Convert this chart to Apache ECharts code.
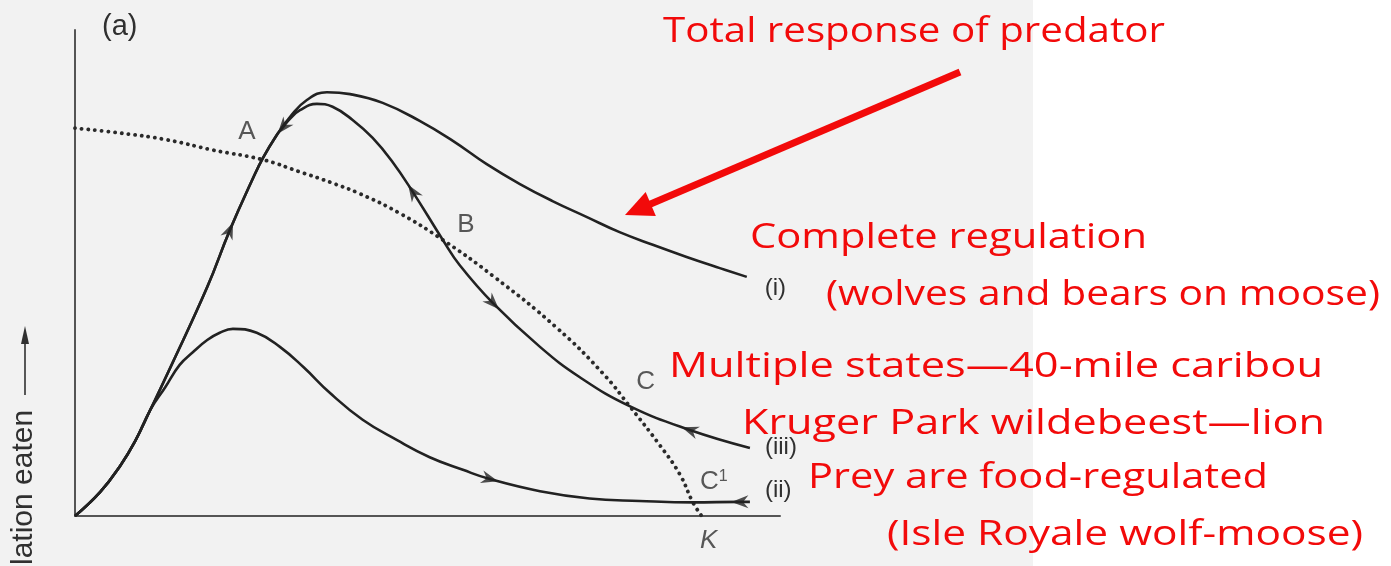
<!DOCTYPE html>
<html>
<head>
<meta charset="utf-8">
<script src="https://cdn.jsdelivr.net/npm/echarts@6/dist/echarts.min.js"></script>
<style>
  html, body { margin: 0; padding: 0; background: #ffffff; }
  #chart { width: 1391px; height: 566px; }
</style>
</head>
<body>
<div id="chart"></div>
<script>
// Prey density on x (carrying capacity K = 100), share of prey population eaten on y.

// Dotted curve: prey recruitment, falling to zero at K
const preyRecruitment = [
  [0, 79.8], [7.2, 78.8], [14.7, 77.4], [22.0, 75.3], [30.0, 73.3], [35.9, 70.8],
  [41.1, 68.5], [45.5, 66.3], [51.8, 62.3], [58.7, 56.8], [66.7, 49.4], [76.9, 38.7],
  [84.2, 29.4], [88.5, 22.6], [93.3, 14.6], [96.5, 8.6], [98.6, 2.8], [100, 0]
];

// (i) total response of predator — complete regulation
const curveI = [
  [0, 0], [4.0, 4.9], [7.2, 10.3], [9.6, 15.4], [12.0, 21.8], [15.2, 30.5], [21.1, 47.1],
  [24.7, 58.8], [28.4, 69.5], [30.0, 73.7], [32.2, 78.4], [34.3, 82.1], [37.0, 85.6],
  [40.2, 87.2], [43.9, 86.8], [49.1, 85.0], [55.0, 81.3], [60.3, 77.2], [65.7, 72.4],
  [71.0, 68.3], [76.2, 64.8], [81.7, 61.5], [86.9, 58.4], [92.2, 55.8], [97.6, 53.3],
  [102.9, 51.0], [107.2, 49.2]
];

// (ii) prey food-regulated
const curveII = [
  [0, 0], [4.0, 4.9], [7.2, 10.3], [9.6, 15.4], [12.0, 21.8], [14.4, 26.5], [16.7, 31.1],
  [18.8, 33.7], [21.1, 36.2], [23.1, 37.7], [25.2, 38.5], [29.0, 37.7], [32.7, 34.8],
  [36.4, 30.7], [40.7, 25.3], [45.9, 19.8], [51.4, 15.6], [56.6, 12.1], [61.9, 9.5],
  [66.2, 7.6], [74.2, 5.1], [82.1, 3.6], [90.1, 3.1], [98.6, 2.8], [106.1, 2.9], [107.7, 2.9]
];

// (iii) multiple stable states
const curveIII = [
  [0, 0], [4.0, 4.9], [7.2, 10.3], [9.6, 15.4], [12.0, 21.8], [15.2, 30.5], [21.1, 47.1],
  [24.7, 58.8], [28.4, 69.5], [30.0, 73.7], [32.2, 78.4], [33.2, 80.0], [34.3, 81.7],
  [35.9, 83.5], [38.6, 84.8], [41.1, 84.2], [44.3, 81.5], [47.5, 77.8], [50.7, 72.8],
  [53.9, 66.7], [58.7, 56.8], [61.4, 51.6], [66.7, 43.8], [74.2, 34.8], [80.5, 28.6],
  [88.5, 22.6], [98.1, 17.7], [107.7, 14.0]
];

const curveNames = ['(i)', '(ii)', '(iii)'];

// Equilibrium points on the recruitment curve, and K on the axis
const equilibria = [
  { name: 'A', value: [30.0, 73.3] },
  { name: 'B', value: [58.7, 56.8] },
  { name: 'C', value: [88.5, 22.6] },
  { name: 'C1', value: [98.6, 2.8] },
  { name: 'K', value: [100, 0] }
];

// Trajectory arrows: curve, x of the curve point carrying the arrow, heading (+1 forward, -1 backward)
const trajectoryArrows = [
  ['i', 24.7, 1],
  ['iii', 33.2, -1],
  ['iii', 53.9, -1],
  ['iii', 66.7, 1],
  ['iii', 98.1, -1],
  ['ii', 66.2, 1],
  ['ii', 106.1, -1]
];

const panelTag = '(a)';
const yAxisTitle = 'lation eaten';

const notes = [
  'Total response of predator',
  'Complete regulation',
  '(wolves and bears on moose)',
  'Multiple states\u201440-mile caribou',
  'Kruger Park wildebeest\u2014lion',
  'Prey are food-regulated',
  '(Isle Royale wolf-moose)'
];

// ---- layout and styling ----
const ink = '#222222';
const textInk = '#303030';
const sans = '"Liberation Sans", Arial, Helvetica, sans-serif';
const noteRed = '#f20a0a';
const noteFontSize = 34;
const noteFont = noteFontSize + 'px "Open Sans", "Noto Sans", sans-serif';
// left edge, baseline, width of each note line
const noteLayout = [
  [663, 43, 502],
  [750, 249, 397],
  [826, 306, 554],
  [669, 378, 654],
  [742, 435, 583],
  [808, 489, 460],
  [887, 546, 476]
];

const curveData = { i: curveI, ii: curveII, iii: curveIII };
const endLabelOffset = { i: [18, 11], ii: [15, -12], iii: [15, -1] };
const markOffset = { A: [-16, -28], B: [23, -15], C: [16, -24], C1: [21, -21], K: [7, 25] };
const arrowPath = 'path://M0,0 L6,16 L0,11 L-6,16 Z';

const measureCtx = document.createElement('canvas').getContext('2d');
function fitScale(text, width) {
  measureCtx.font = noteFont;
  const w = measureCtx.measureText(text).width;
  return w > 0 ? width / w : 1;
}

function curveSeries(key, idx) {
  return {
    id: 'curve-' + key,
    type: 'line',
    data: curveData[key],
    smooth: 0.45,
    symbol: 'none',
    silent: true,
    z: 3,
    lineStyle: { color: ink, width: 2.6 },
    endLabel: {
      show: true,
      formatter: curveNames[idx],
      distance: 0,
      offset: endLabelOffset[key],
      color: textInk,
      fontSize: 24,
      fontFamily: sans
    }
  };
}

const noteGraphics = notes.map((t, i) => {
  const [x, base, w] = noteLayout[i];
  return {
    type: 'text',
    x: x,
    y: base - noteFontSize * 0.3,
    scaleX: fitScale(t, w),
    silent: true,
    z: 20,
    style: {
      text: t,
      font: noteFont,
      fill: noteRed,
      textAlign: 'left',
      textVerticalAlign: 'middle',
      align: 'left',
      verticalAlign: 'middle'
    }
  };
});

// thick red pointer towards curve (i)
const tail = [960, 72], tip = [625, 215];
const ang = Math.atan2(tip[1] - tail[1], tip[0] - tail[0]);
const headLen = 28, headHalf = 13;
const ux = Math.cos(ang), uy = Math.sin(ang);
const baseX = tip[0] - ux * headLen, baseY = tip[1] - uy * headLen;
const pointer = [
  {
    type: 'line', silent: true, z: 20,
    shape: { x1: tail[0], y1: tail[1], x2: baseX + ux * 4, y2: baseY + uy * 4 },
    style: { stroke: noteRed, lineWidth: 7 }
  },
  {
    type: 'polygon', silent: true, z: 20,
    shape: { points: [tip, [baseX - uy * headHalf, baseY + ux * headHalf], [baseX + uy * headHalf, baseY - ux * headHalf]] },
    style: { fill: noteRed }
  }
];

const option = {
  animation: false,
  backgroundColor: '#ffffff',
  grid: { left: 75, top: 30, width: 705, height: 486 },
  xAxis: {
    type: 'value', min: 0, max: 112.5,
    axisLine: { show: true, onZero: false, lineStyle: { color: '#555555', width: 2 } },
    axisTick: { show: false }, axisLabel: { show: false }, splitLine: { show: false }
  },
  yAxis: {
    type: 'value', min: 0, max: 100,
    axisLine: { show: true, onZero: false, lineStyle: { color: '#555555', width: 2 } },
    axisTick: { show: false }, axisLabel: { show: false }, splitLine: { show: false }
  },
  graphic: [
    { type: 'rect', silent: true, z: -100, shape: { x: 0, y: 0, width: 1033, height: 566 }, style: { fill: '#f2f2f2' } },
    {
      type: 'text', x: 102, y: 27, silent: true,
      style: { text: panelTag, font: '29px ' + sans, fill: textInk, textAlign: 'left', textVerticalAlign: 'middle', align: 'left', verticalAlign: 'middle' }
    },
    {
      type: 'text', x: 24, y: 565, rotation: Math.PI / 2, silent: true,
      style: { text: yAxisTitle, font: '30px ' + sans, fill: textInk, textAlign: 'left', textVerticalAlign: 'middle', align: 'left', verticalAlign: 'middle' }
    },
    { type: 'line', silent: true, shape: { x1: 25, y1: 395, x2: 25, y2: 340 }, style: { stroke: textInk, lineWidth: 1.6 } },
    { type: 'polygon', silent: true, shape: { points: [[25, 326], [21, 344], [29, 344]] }, style: { fill: textInk } }
  ].concat(noteGraphics, pointer),
  series: [
    {
      id: 'recruitment',
      type: 'line',
      data: preyRecruitment,
      smooth: 0.45,
      symbol: 'none',
      silent: true,
      z: 2,
      lineStyle: { color: '#2a2a2a', width: 3.8, type: [0.1, 6.6], cap: 'round' }
    },
    curveSeries('i', 0),
    curveSeries('ii', 1),
    curveSeries('iii', 2),
    {
      id: 'arrows',
      type: 'scatter',
      silent: true,
      z: 5,
      symbol: arrowPath,
      symbolSize: [13, 17],
      itemStyle: { color: ink },
      data: []
    },
    {
      id: 'marks',
      type: 'scatter',
      silent: true,
      z: 6,
      symbolSize: 0,
      label: { show: true, color: textInk, fontSize: 26, fontFamily: sans },
      data: equilibria.map(e => {
        const lab = { formatter: e.name, offset: markOffset[e.name] };
        if (e.name === 'K') lab.fontStyle = 'italic';
        if (e.name === 'C1') {
          lab.formatter = '{c|C}{s|1}';
          lab.rich = {
            c: { fontSize: 26, color: textInk, fontFamily: sans },
            s: { fontSize: 16, color: textInk, fontFamily: sans, verticalAlign: 'top' }
          };
        }
        return { value: e.value, label: lab };
      })
    }
  ]
};

const chart = echarts.init(document.getElementById('chart'), null, { renderer: 'canvas' });
chart.setOption(option);

// Orient each arrowhead along the local tangent of its curve
const arrowData = trajectoryArrows.map(([key, x, dir]) => {
  const pts = curveData[key];
  const k = pts.findIndex(p => p[0] === x);
  const p0 = chart.convertToPixel({ gridIndex: 0 }, pts[k - 1]);
  const p1 = chart.convertToPixel({ gridIndex: 0 }, pts[k + 1]);
  const dx = (p1[0] - p0[0]) * dir, dy = (p1[1] - p0[1]) * dir;
  const theta = Math.atan2(-dy, dx) * 180 / Math.PI;
  return { value: pts[k], symbolRotate: theta - 90 };
});
chart.setOption({ series: [{ id: 'arrows', data: arrowData }] });
</script>
</body>
</html>
